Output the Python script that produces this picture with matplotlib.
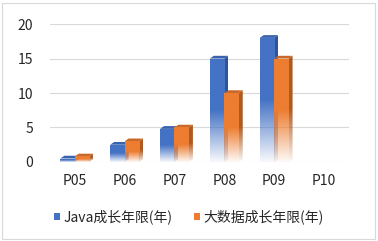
import numpy as np
import matplotlib.pyplot as plt
from matplotlib.patches import Polygon, Rectangle, Patch
from matplotlib.colors import to_rgb

plt.rcParams['font.family'] = ['Noto Sans CJK SC', 'DejaVu Sans']

categories = ["P05", "P06", "P07", "P08", "P09", "P10"]
java_years = [0.5, 2.5, 4.8, 15, 18, 0]
bigdata_years = [0.8, 3, 5, 10, 15, 0]
series_names = ["Java成长年限(年)", "大数据成长年限(年)"]

front_colors = ["#4472C4", "#ED7D31"]
side_colors = ["#2F5597", "#AE5A21"]
top_colors = ["#3A63AE", "#C8682A"]

fig = plt.figure(figsize=(3.78, 2.41), dpi=100)
ax = fig.add_axes([0.132, 0.328, 0.791, 0.572])

width = 0.29
dx, dy = 0.08, 0.4
x = np.arange(len(categories))


def gradient(color, n=200, fade=0.5):
    rgb = np.array(to_rgb(color))
    t = np.linspace(0, 1, n)
    alpha = np.clip(0.04 + 0.96 * t / fade, 0, 1)
    img = np.zeros((n, 1, 4))
    img[:, 0, :3] = rgb
    img[:, 0, 3] = alpha
    return img


for k, (vals, fc, sc, tc) in enumerate(zip([java_years, bigdata_years],
                                         front_colors, side_colors, top_colors)):
    offs = x - width + k * width
    bars = ax.bar(offs, vals, width, align='edge', color='none', zorder=3 + 3 * k)
    for rect, h in zip(bars, vals):
        if h <= 0:
            continue
        x0 = rect.get_x()
        x1 = x0 + rect.get_width()
        # side face
        side = Polygon([(x1, 0), (x1 + dx, dy), (x1 + dx, h + dy), (x1, h)],
                       closed=True, fc='none', ec='none', zorder=2 + 3 * k)
        ax.add_patch(side)
        im = ax.imshow(gradient(sc), extent=[x1, x1 + dx, 0, h + dy], origin='lower',
                       aspect='auto', zorder=2 + 3 * k, interpolation='bilinear')
        im.set_clip_path(side)
        # top face
        ax.add_patch(Polygon([(x0, h), (x0 + dx, h + dy), (x1 + dx, h + dy), (x1, h)],
                             closed=True, fc=tc, ec='none', zorder=2 + 3 * k))
        # front face
        im = ax.imshow(gradient(fc), extent=[x0, x1, 0, h], origin='lower',
                       aspect='auto', zorder=3 + 3 * k, interpolation='bilinear')
        im.set_clip_path(rect)

ax.set_xlim(-0.5, len(categories) - 0.5)
ax.set_ylim(0, 20)
ax.set_yticks([0, 5, 10, 15, 20])
ax.set_xticks(x)
ax.set_xticklabels(categories)
ax.grid(axis='y', color='#D9D9D9', linewidth=0.8, zorder=0)
ax.set_axisbelow(True)
for s in ax.spines.values():
    s.set_visible(False)
ax.tick_params(axis='both', length=0, labelsize=10, colors='#262626')
ax.tick_params(axis='y', pad=12)
ax.tick_params(axis='x', pad=9)

handles = [Patch(facecolor=c, edgecolor='none') for c in front_colors]
fig.legend(handles, series_names, loc='center', bbox_to_anchor=(0.5, 0.1), ncol=2,
           frameon=False, fontsize=10, handlelength=0.45, handleheight=0.45,
           handletextpad=0.25, columnspacing=1.5, labelcolor='#262626')

fig.patches.append(Rectangle((0.004, 0.01), 0.988, 0.978, transform=fig.transFigure,
                             fill=False, ec='#D9D9D9', lw=0.8))

fig.savefig("out.png", dpi=100)
